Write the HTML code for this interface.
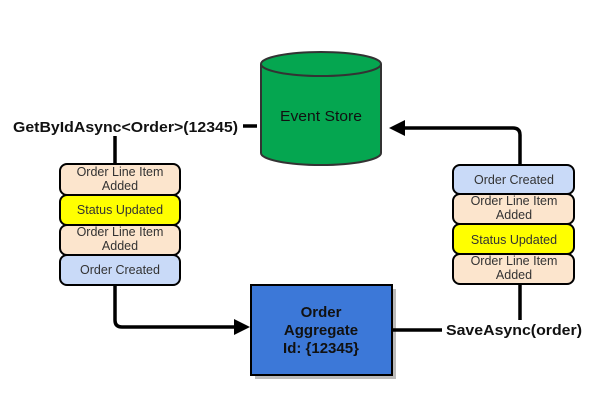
<!DOCTYPE html>
<html><head><style>body{margin:0;background:#fff}svg{display:block}</style></head><body>
<svg width="604" height="400" xmlns="http://www.w3.org/2000/svg" font-family="Liberation Sans, sans-serif">
<path d="M261,64 L261,153 A60,12 0 0 0 381,153 L381,64" fill="#05a650" stroke="#333" stroke-width="2"/>
<ellipse cx="321" cy="64" rx="60" ry="12" fill="#05a650" stroke="#333" stroke-width="2"/>
<text x="321" y="121" font-size="15" text-anchor="middle" fill="#111" textLength="82" lengthAdjust="spacingAndGlyphs">Event Store</text>
<text x="13" y="132" font-size="15" font-weight="bold" fill="#111" textLength="225" lengthAdjust="spacingAndGlyphs">GetByIdAsync&lt;Order&gt;(12345)</text>
<line x1="243" y1="126" x2="257" y2="126" stroke="#000" stroke-width="3.5"/>
<line x1="115" y1="136" x2="115" y2="164" stroke="#000" stroke-width="3.5"/>
<path d="M115,285 L115,320 Q115,327 122,327 L236,327" fill="none" stroke="#000" stroke-width="3.5"/>
<polygon points="234,319 250,327 234,335" fill="#000"/>
<g stroke="#000" stroke-width="2">
<rect x="60" y="164" width="120" height="31" rx="7" fill="#fce5cd"/>
<rect x="60" y="195" width="120" height="30" rx="7" fill="#ffff00"/>
<rect x="60" y="225" width="120" height="30" rx="7" fill="#fce5cd"/>
<rect x="60" y="255" width="120" height="30" rx="7" fill="#c9daf8"/>
</g>
<g font-size="12.5" text-anchor="middle" fill="#333">
<text x="120" y="176">Order Line Item</text><text x="120" y="190">Added</text>
<text x="120" y="214">Status Updated</text>
<text x="120" y="236">Order Line Item</text><text x="120" y="250">Added</text>
<text x="120" y="274">Order Created</text>
</g>
<rect x="255" y="289" width="141" height="90" fill="#bbb"/>
<rect x="251" y="285" width="141" height="90" fill="#3c78d8" stroke="#000" stroke-width="2"/>
<g font-size="15" font-weight="bold" text-anchor="middle" fill="#111">
<text x="321" y="317">Order</text><text x="321" y="335">Aggregate</text><text x="321" y="353">Id: {12345}</text>
</g>
<line x1="392" y1="330" x2="442" y2="330" stroke="#000" stroke-width="3.5"/>
<text x="446" y="335" font-size="15" font-weight="bold" fill="#111" textLength="136" lengthAdjust="spacingAndGlyphs">SaveAsync(order)</text>
<line x1="520" y1="284" x2="520" y2="320" stroke="#000" stroke-width="3.5"/>
<path d="M520,165 L520,135 Q520,128 513,128 L403,128" fill="none" stroke="#000" stroke-width="3.5"/>
<polygon points="405,120 389,128 405,136" fill="#000"/>
<g stroke="#000" stroke-width="2">
<rect x="453" y="165" width="121" height="29" rx="7" fill="#c9daf8"/>
<rect x="453" y="194" width="121" height="30" rx="7" fill="#fce5cd"/>
<rect x="453" y="224" width="121" height="30" rx="7" fill="#ffff00"/>
<rect x="453" y="254" width="121" height="30" rx="7" fill="#fce5cd"/>
</g>
<g font-size="12.5" text-anchor="middle" fill="#333">
<text x="514" y="184">Order Created</text>
<text x="514" y="205">Order Line Item</text><text x="514" y="219">Added</text>
<text x="514" y="244">Status Updated</text>
<text x="514" y="265">Order Line Item</text><text x="514" y="279">Added</text>
</g>
</svg>
</body></html>
